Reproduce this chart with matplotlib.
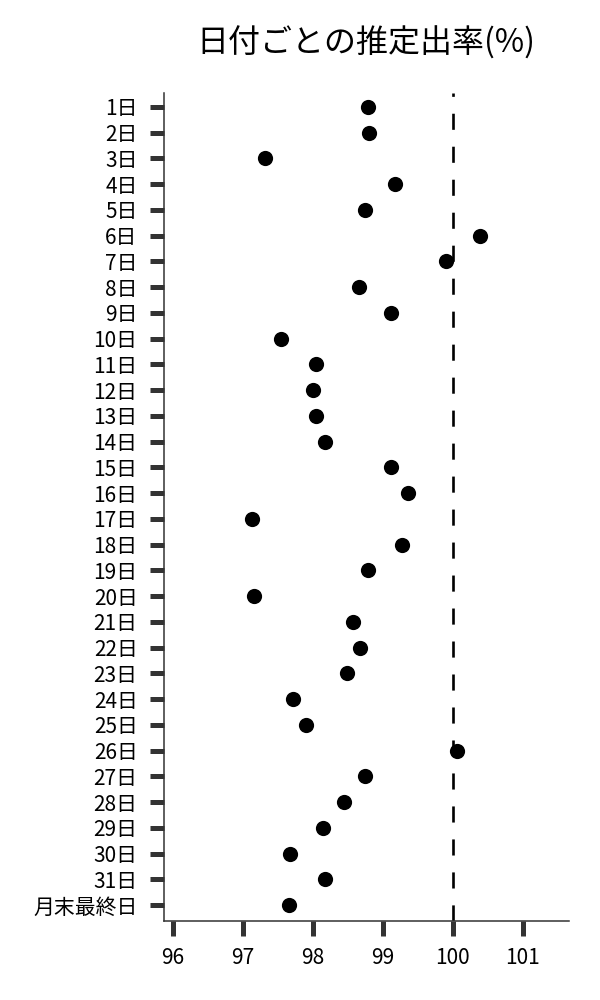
import numpy as np
import matplotlib
matplotlib.use('Agg')
import matplotlib.pyplot as plt

plt.rcParams['font.family'] = ['Noto Sans CJK JP', 'DejaVu Sans']

# 日付ラベルと推定出率(%)
days = [f'{d}日' for d in range(1, 32)] + ['月末最終日']
rates = [98.79, 98.80, 97.32, 99.18, 98.75, 100.39, 99.90, 98.66, 99.12, 97.55,
         98.04, 98.00, 98.04, 98.18, 99.11, 99.36, 97.13, 99.27, 98.79, 97.16,
         98.58, 98.67, 98.49, 97.72, 97.90, 100.06, 98.74, 98.44, 98.15, 97.67,
         98.17, 97.66]
xticks = [96, 97, 98, 99, 100, 101]
ref_line = 100

fig = plt.figure(figsize=(6, 10), dpi=100)
ax = fig.add_axes([0.2733, 0.079, 0.6747, 0.828])

y = np.arange(len(days))
ax.scatter(rates, y, s=120, color='black', zorder=3, linewidths=0)
ax.axvline(ref_line, color='black', lw=1.9, linestyle=(0, (6.1, 6.4)), zorder=2)

ax.set_xlim(95.87, 101.66)
ax.set_ylim(len(days) - 1 + 0.62, -0.54)
ax.set_yticks(y)
ax.set_yticklabels(days)
ax.set_xticks(xticks)
ax.set_xticklabels([str(t) for t in xticks])

ax.spines['top'].set_visible(False)
ax.spines['right'].set_visible(False)
for s in ['left', 'bottom']:
    ax.spines[s].set_color('#333333')
    ax.spines[s].set_linewidth(1.1)

ax.tick_params(axis='y', length=10, width=3.6, color='#333333', labelsize=15, pad=9)
ax.tick_params(axis='x', length=11, width=3.6, color='#333333', labelsize=15, pad=8)

fig.text(0.61, 0.957, '日付ごとの推定出率(%)', ha='center', va='center', fontsize=23)

fig.savefig('out.png', dpi=100)
